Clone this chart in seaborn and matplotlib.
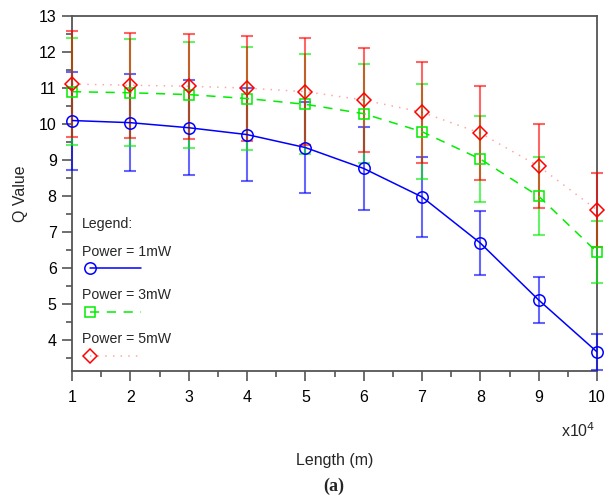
import numpy as np
import pandas as pd
import matplotlib
matplotlib.use("Agg")
import matplotlib.pyplot as plt
import seaborn as sns
from matplotlib.lines import Line2D

# ---- data (length in units of 1e4 m) ----
length = [1, 2, 3, 4, 5, 6, 7, 8, 9, 10]
q_1mw = [10.10, 10.04, 9.90, 9.71, 9.35, 8.77, 7.98, 6.70, 5.12, 3.68]
err_1mw = [1.36, 1.35, 1.32, 1.29, 1.25, 1.16, 1.10, 0.89, 0.64, 0.49]
q_3mw = [10.90, 10.87, 10.82, 10.71, 10.55, 10.29, 9.79, 9.03, 8.00, 6.45]
err_3mw = [1.48, 1.48, 1.47, 1.44, 1.39, 1.38, 1.31, 1.19, 1.09, 0.86]
q_5mw = [11.11, 11.08, 11.05, 11.00, 10.90, 10.67, 10.33, 9.75, 8.83, 7.62]
err_5mw = [1.46, 1.46, 1.46, 1.455, 1.48, 1.43, 1.40, 1.30, 1.17, 1.03]
labels = ["Power = 1mW", "Power = 3mW", "Power = 5mW"]
x_ticks = [1, 2, 3, 4, 5, 6, 7, 8, 9, 10]
y_ticks = [4, 5, 6, 7, 8, 9, 10, 11, 12, 13]

sns.set_style("ticks")
plt.rcParams["font.family"] = ["Liberation Sans", "DejaVu Sans"]

fig = plt.figure(figsize=(6.05, 4.96), dpi=100)
ax = fig.add_axes([72 / 605, 1 - 371 / 496, 525 / 605, 355 / 496])

series = [
    dict(q=q_1mw, e=err_1mw, color="#0000FF", marker="o", ls="-", lalpha=1.0, ms=8.2),
    dict(q=q_3mw, e=err_3mw, color="#00EE00", marker="s", ls=(0, (6, 5)), lalpha=1.0, ms=7.8),
    dict(q=q_5mw, e=err_5mw, color="#FF0000", marker="D", ls=(0, (1, 4)), lalpha=0.35, ms=7.6),
]

# error bars
for s in series:
    _, caps, bars = ax.errorbar(length, s["q"], yerr=s["e"], fmt="none", ecolor=s["color"],
                                alpha=0.6, elinewidth=1.5, capsize=4, capthick=1.5, zorder=2)
    for c in caps:
        c.set_clip_on(False)
    for b in bars:
        b.set_clip_on(False)

# lines + markers
for s, lab in zip(series, labels):
    df = pd.DataFrame({"Length": length, "Q": s["q"]})
    sns.lineplot(data=df, x="Length", y="Q", ax=ax, color=s["color"],
                 linestyle=s["ls"], linewidth=1.1, alpha=s["lalpha"], zorder=3)
    ax.plot(length, s["q"], linestyle="none", marker=s["marker"], ms=s["ms"],
            mfc="none", mec=s["color"], mew=1.1, zorder=4, clip_on=False)

ax.set_xlim(1, 10)
ax.set_ylim(3.15, 13)
ax.set_xticks(x_ticks)
ax.set_yticks(y_ticks)
ax.set_xticks(np.arange(1.5, 10, 1.0), minor=True)
ax.set_yticks(np.arange(3.5, 13, 1.0), minor=True)
ax.tick_params(axis="both", which="major", direction="out", length=7, width=1.2,
               color="#555555", labelsize=11.5, labelcolor="black")
ax.tick_params(axis="both", which="minor", direction="out", length=4, width=1.2,
               color="#555555")
ax.tick_params(axis="y", pad=4)
ax.tick_params(axis="x", pad=7)
for sp in ax.spines.values():
    sp.set_color("#555555")
    sp.set_linewidth(1.3)
    sp.set_visible(True)
    sp.set_zorder(1)

ax.set_xlabel("Length (m)", fontsize=11.5, va="center")
ax.xaxis.set_label_coords(0.5, (371 - 460) / 355)
ax.set_ylabel("Q Value", fontsize=11.5, va="center")
ax.yaxis.set_label_coords((20 - 72) / 525, 0.5)

fig.text(595 / 605, 1 - 431 / 496, r"x10$^4$", ha="right", va="center", fontsize=11.5)
fig.text(334 / 605, 1 - 486 / 496, "(a)", ha="center", va="center", fontsize=13,
         fontweight="bold", family=["Liberation Serif", "DejaVu Serif"])

# custom legend (labels above handles)
ax.text(0.019, 0.414, "Legend:", transform=ax.transAxes, fontsize=10.2, va="center", ha="left")
lab_y = [0.335, 0.214, 0.090]
han_y = [0.290, 0.166, 0.042]
for s, lab, ly, hy in zip(series, labels, lab_y, han_y):
    ax.text(0.019, ly, lab, transform=ax.transAxes, fontsize=10.2, va="center", ha="left")
    ax.add_line(Line2D([0.034, 0.131], [hy, hy], transform=ax.transAxes,
                       color=s["color"], linestyle=s["ls"], linewidth=1.1, alpha=s["lalpha"]))
    ax.add_line(Line2D([0.034], [hy], transform=ax.transAxes, linestyle="none",
                       marker=s["marker"], ms=s["ms"], mfc="none", mec=s["color"], mew=1.1))

fig.savefig("out.png", dpi=100)
